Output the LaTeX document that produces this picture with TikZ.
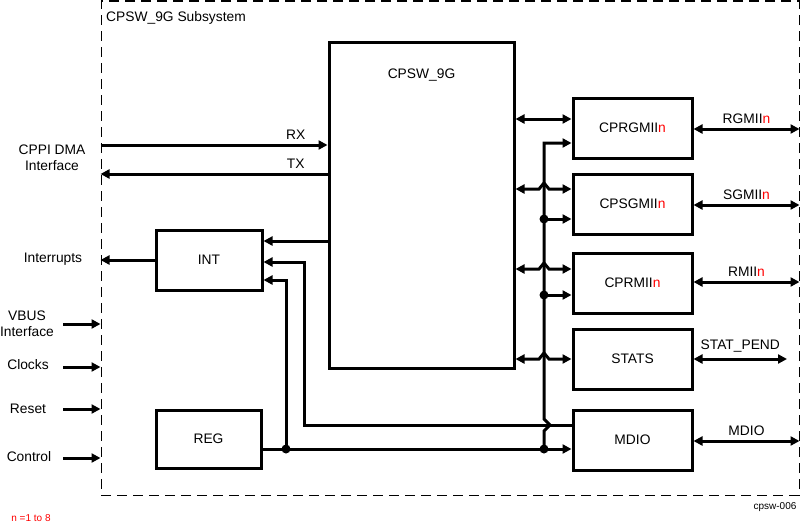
\documentclass[tikz,border=0pt]{standalone}
\usepackage{fontspec}
\setmainfont{Liberation Sans}
\usepackage{xcolor}
\usetikzlibrary{arrows.meta}

\tikzset{
  blk/.style={draw,line width=3pt,minimum width=119pt,minimum height=60pt,inner sep=0pt,font=\fontsize{13.8}{16}\selectfont},
  wire/.style={line width=3pt},
  arr/.style={wire,-{Triangle[length=9pt,width=9pt]}},
  dbl/.style={wire,{Triangle[length=9pt,width=9pt]}-{Triangle[length=9pt,width=9pt]}},
  dot/.style={circle,fill,inner sep=0pt,minimum size=9pt},
  lbl/.style={font=\fontsize{13.8}{16}\selectfont,align=center,inner sep=0pt},
  tiny/.style={font=\fontsize{10}{12}\selectfont,inner sep=0pt},
}

\begin{document}
\begin{tikzpicture}[x=1pt,y=-1pt]
        \useasboundingbox (0,0) rectangle (800,522);
        % subsystem frame
        \node[draw,line width=1pt,dash pattern=on 10pt off 6pt,minimum width=698pt,minimum height=494pt,inner sep=0pt] (subsys) at (450,248) {};
        \node[lbl,anchor=north west] (title) at (106,11) {CPSW\_9G Subsystem};

        % blocks
        \node[blk,minimum width=185pt,minimum height=326pt] (cpsw) at (421.5,205) {};
        \node[lbl,anchor=north] (cpswname) at ([yshift=-28pt]cpsw.north) {CPSW\_9G};
        \node[blk] (cprgmii) at (632.5,128) {CPRGMII\textcolor{red}{n}};
        \node[blk] (cpsgmii) at (632.5,204) {CPSGMII\textcolor{red}{n}};
        \node[blk] (cprmii) at (632.5,283) {CPRMII\textcolor{red}{n}};
        \node[blk] (stats) at (632.5,359) {STATS};
        \node[blk] (mdio) at (632.5,440) {MDIO};
        \node[blk,minimum width=106pt] (int) at (209,260) {INT};
        \node[blk,minimum width=105pt,minimum height=58pt] (reg) at (208.5,439) {REG};

        % left side
        \node[lbl] (cppi) at (52,158) {CPPI DMA\\Interface};
        \node[lbl] (irq) at (53,259) {Interrupts};
        \node[lbl] (vbus) at (27,324) {VBUS\\Interface};
        \node[lbl] (clocks) at (28,365) {Clocks};
        \node[lbl] (reset) at (28,409) {Reset};
        \node[lbl] (control) at (29,457) {Control};
        \coordinate (vbusin) at (63,324);
        \coordinate (clocksin) at (63,367);
        \coordinate (resetin) at (63,409);
        \coordinate (controlin) at (63,458);

        \draw[arr] (subsys.west |- 0,145) -- (cpsw.west |- 0,145) node[lbl,pos=0.86,above=4pt] (rx) {RX};
        \draw[arr] (cpsw.west |- 0,174) -- (subsys.west |- 0,174) node[lbl,pos=0.14,above=4pt] (tx) {TX};
        \draw[arr] (int.west) -- (subsys.west |- int.west);
        \draw[arr] (vbusin) -- (subsys.west |- vbusin);
        \draw[arr] (clocksin) -- (subsys.west |- clocksin);
        \draw[arr] (resetin) -- (subsys.west |- resetin);
        \draw[arr] (controlin) -- (subsys.west |- controlin);

        % interrupt sources
        \draw[arr] (cpsw.west |- 0,241) -- (int.east |- 0,241);
        \draw[arr] (mdio.west |- 0,425) -| (304,262) -- (int.east |- 0,262);
        \draw[arr] (286,449) node[dot] (d0) {} |- (int.east |- 0,280);
        \draw[arr] (reg.east |- 0,449) -- (mdio.west |- 0,449);

        % cpsw to ports
        \draw[dbl] (cpsw.east |- 0,119) -- (cprgmii.west |- 0,119);
        \draw[dbl] (cpsw.east |- 0,189) -- (539,189) -- (544,183) -- (549,189) -- (cpsgmii.west |- 0,189);
        \draw[dbl] (cpsw.east |- 0,269) -- (539,269) -- (544,263) -- (549,269) -- (cprmii.west |- 0,269);
        \draw[dbl] (cpsw.east |- 0,359) -- (539,359) -- (544,353) -- (549,359) -- (stats.west);

        % mdio bus
        \draw[arr] (544,449) node[dot] (d3) {} -- (544,431) -- (550,425) -- (544,419) -- (544,143) -- (cprgmii.west |- 0,143);
        \draw[arr] (544,219) node[dot] (d1) {} -- (cpsgmii.west |- 0,219);
        \draw[arr] (544,295) node[dot] (d2) {} -- (cprmii.west |- 0,295);

        % external ports
        \draw[dbl] (cprgmii.east |- 0,129) -- (subsys.east |- 0,129) node[lbl,midway,above=4pt] (rgmii) {RGMII\textcolor{red}{n}};
        \draw[dbl] (cpsgmii.east |- 0,205) -- (subsys.east |- 0,205) node[lbl,midway,above=4pt] (sgmii) {SGMII\textcolor{red}{n}};
        \draw[dbl] (cprmii.east |- 0,282) -- (subsys.east |- 0,282) node[lbl,midway,above=4pt] (rmii) {RMII\textcolor{red}{n}};
        \draw[dbl] (stats.east) -- (787,359) node[lbl,midway,above=5pt] (statpend) {STAT\_PEND};
        \draw[dbl] (mdio.east |- 0,441) -- (subsys.east |- 0,441) node[lbl,midway,above=4pt] (mdioio) {MDIO};

        % notes
        \node[tiny,text=red] (note) at (31,518) {n =1 to 8};
        \node[tiny] (figid) at (775,507) {cpsw-006};
    \end{tikzpicture}
\end{document}
